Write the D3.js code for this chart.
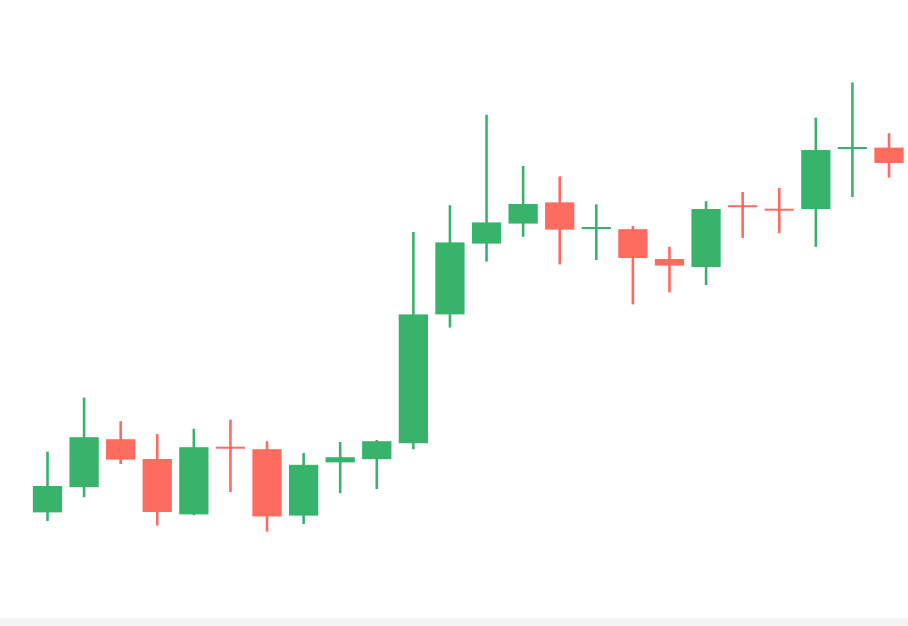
<!DOCTYPE html>
<html>
<head>
<meta charset="utf-8">
<script src="https://cdn.jsdelivr.net/npm/d3@7/dist/d3.min.js"></script>
<style>
  html, body { margin: 0; padding: 0; background: #ffffff; }
  svg { display: block; }
</style>
</head>
<body>
<div id="chart"></div>
<script>
// ---- data ----
const dates = ["D01","D02","D03","D04","D05","D06","D07","D08","D09","D10","D11","D12",
               "D13","D14","D15","D16","D17","D18","D19","D20","D21","D22","D23","D24"];
const open  = [11.9, 18.2, 30.2, 25.25, 11.4, 28.25, 27.7, 11.1, 24.4, 25.2, 29.2, 61.4,
               79.1, 84.1, 89.4, 82.9, 82.7, 75.25, 73.25, 88.6, 87.7, 87.75, 102.9, 103.1];
const high  = [27.1, 40.6, 34.7, 31.5, 32.8, 35.1, 29.7, 26.75, 29.5, 30.0, 82.0, 88.7,
               111.3, 98.5, 95.9, 88.9, 83.5, 78.3, 89.7, 92.0, 93.0, 110.6, 119.4, 106.7];
const low   = [9.75, 15.7, 24.0, 8.6, 11.2, 17.0, 7.1, 9.0, 16.7, 17.75, 27.7, 58.1,
               74.6, 80.8, 73.9, 75.0, 63.9, 66.9, 68.75, 80.5, 81.7, 78.3, 90.75, 95.6];
const close = [18.5, 30.7, 25.1, 12.0, 28.2, 27.9, 10.9, 23.8, 25.7, 29.7, 61.4, 79.4,
               84.4, 89.0, 82.6, 83.1, 75.5, 73.6, 87.75, 88.3, 87.45, 102.5, 103.1, 99.25];

const W = 908, H = 626;
const UP = "#38b36b", DOWN = "#fe6b5f";

const candles = dates.map((d, i) => ({ d, o: open[i], h: high[i], l: low[i], c: close[i] }));

const svg = d3.select("#chart").append("svg").attr("width", W).attr("height", H);

// bottom light band
svg.append("rect").attr("x", 0).attr("y", 618).attr("width", W).attr("height", 8).attr("fill", "#f3f3f4");

const x = d3.scalePoint().domain(dates).range([47.5, 889]);
const y = d3.scaleLinear().domain([0, 140]).range([560, 0]);
const bw = x.step() * 0.8;

const g = svg.append("g");
const cg = g.selectAll("g.candle").data(candles).join("g").attr("class", "candle");

cg.append("line")
  .attr("x1", d => x(d.d)).attr("x2", d => x(d.d))
  .attr("y1", d => y(d.h)).attr("y2", d => y(d.l))
  .attr("stroke", d => d.c >= d.o ? UP : DOWN)
  .attr("stroke-width", 2.6);

cg.append("rect")
  .attr("x", d => x(d.d) - bw / 2)
  .attr("width", bw)
  .attr("y", d => {
    const t = y(Math.max(d.o, d.c)), b = y(Math.min(d.o, d.c));
    return (b - t) < 2 ? (t + b) / 2 - 1 : t;
  })
  .attr("height", d => Math.max(2, Math.abs(y(d.o) - y(d.c))))
  .attr("fill", d => d.c >= d.o ? UP : DOWN);
</script>
</body>
</html>
